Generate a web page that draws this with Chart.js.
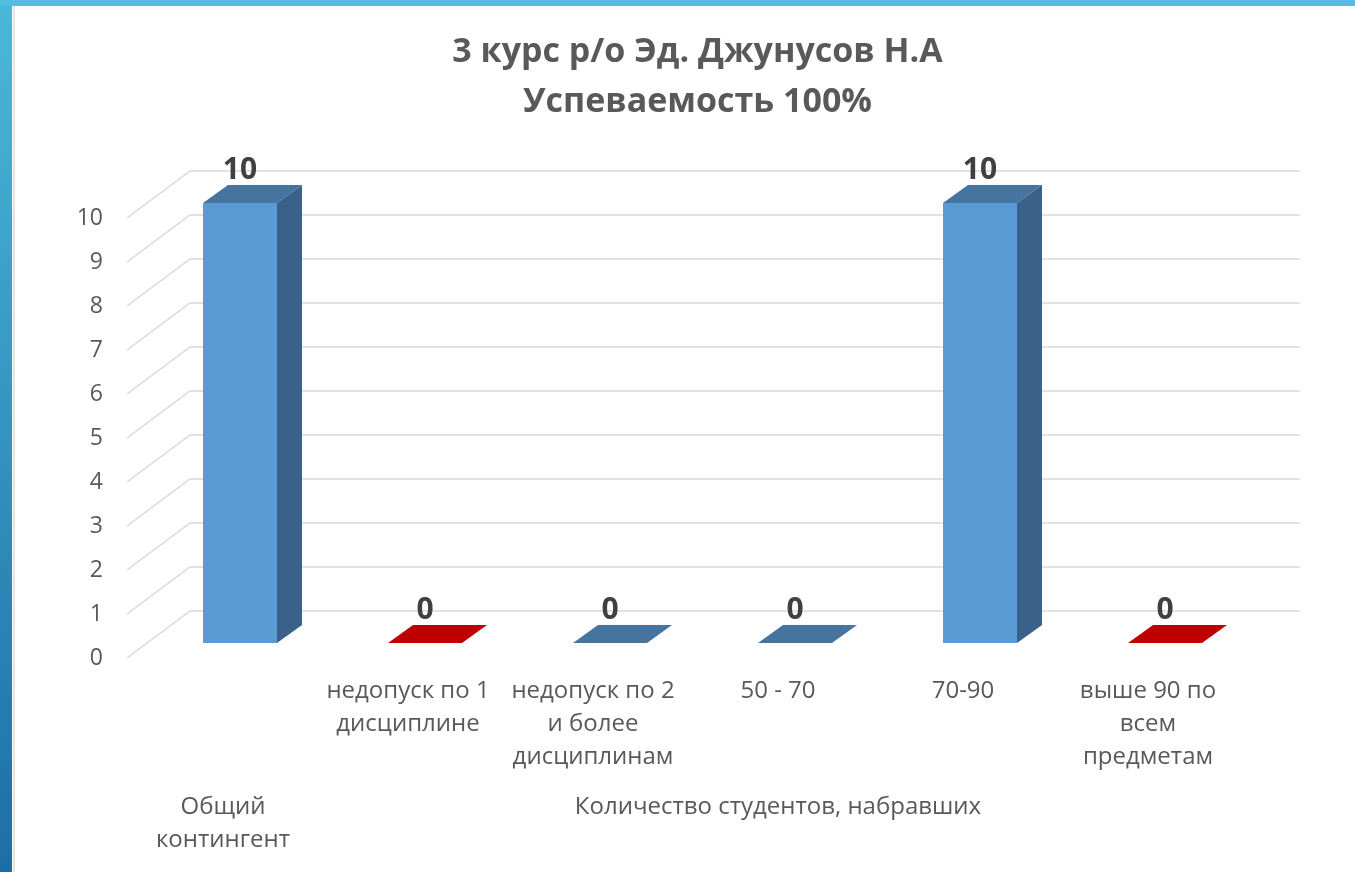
<!DOCTYPE html>
<html>
<head>
<meta charset="utf-8">
<script src="https://cdn.jsdelivr.net/npm/chart.js@4.4.0/dist/chart.umd.min.js"></script>
<style>
  html, body { margin: 0; padding: 0; }
  body {
    width: 1355px; height: 872px; overflow: hidden;
    background:
      linear-gradient(#55bedf, #55bedf) 0 0 / 100% 6px no-repeat,
      linear-gradient(to bottom, #4ab8da, #1d6ea6) 0 0 / 12px 100% no-repeat,
      linear-gradient(#e4e4e4, #e4e4e4) 13px 6px / 2px 100% no-repeat,
      #ffffff;
  }
  #wrap { position: absolute; left: 0; top: 0; width: 1355px; height: 872px; }
</style>
</head>
<body>
<div id="wrap"><canvas id="myChart"></canvas></div>
<script>
const titleLines = ['3 курс р/о Эд. Джунусов Н.А', 'Успеваемость 100%'];
const categories = [
  '',
  ['недопуск по 1', 'дисциплине'],
  ['недопуск по 2', 'и более', 'дисциплинам'],
  '50 - 70',
  '70-90',
  ['выше 90 по', 'всем', 'предметам']
];
const students = [10, 0, 0, 0, 10, 0];
const groupLabels = [['Общий', 'контингент'], ['Количество студентов, набравших']];
const groupFrom = [0, 1];
const groupTo = [0, 5];

// colours: blue bars and red bars (front / side / top)
const isRed = [false, true, false, false, false, true];
const frontColors = isRed.map(r => r ? '#C00000' : '#5B9BD5');
const sideColors = isRed.map(r => r ? '#8E0000' : '#3A6189');
const topColors = isRed.map(r => r ? '#C00000' : '#4574A1');

Chart.defaults.font.family = '"Open Sans", sans-serif';
Chart.defaults.color = '#595959';

const DX = 25, DY = -18;      // bar depth
const LABEL_SHIFT = -17;      // floor front edge vs bar front

const cube3d = {
  id: 'cube3d',
  beforeDatasetsDraw(chart) {
    const { ctx, chartArea, scales } = chart;
    const y = scales.y;
    ctx.save();
    ctx.strokeStyle = '#d9d9d9';
    ctx.lineWidth = 1.5;
    for (let v = 0; v <= 10; v++) {
      const p = y.getPixelForValue(v);
      ctx.beginPath();
      ctx.moveTo(chartArea.left - 20.5, p + 15);
      ctx.lineTo(chartArea.left + 42.5, p - 32);
      ctx.lineTo(chartArea.right + 42.5, p - 32);
      ctx.stroke();
    }
    ctx.restore();
  },
  afterDatasetsDraw(chart) {
    const { ctx } = chart;
    const meta = chart.getDatasetMeta(0);
    ctx.save();
    meta.data.forEach((bar, i) => {
      const w = bar.width / 2;
      const l = bar.x - w, r = bar.x + w;
      const top = bar.y, base = bar.base;
      // side face
      ctx.fillStyle = sideColors[i];
      ctx.beginPath();
      ctx.moveTo(r, top);
      ctx.lineTo(r + DX, top + DY);
      ctx.lineTo(r + DX, base + DY);
      ctx.lineTo(r, base);
      ctx.closePath();
      ctx.fill();
      // top face
      ctx.fillStyle = topColors[i];
      ctx.beginPath();
      ctx.moveTo(l, top);
      ctx.lineTo(l + DX, top + DY);
      ctx.lineTo(r + DX, top + DY);
      ctx.lineTo(r, top);
      ctx.closePath();
      ctx.fill();
      // value label
      ctx.fillStyle = '#404040';
      ctx.font = 'bold 30px "Open Sans", sans-serif';
      ctx.textAlign = 'center';
      ctx.textBaseline = 'middle';
      ctx.fillText(String(students[i]), bar.x, top - 33);
    });
    ctx.restore();
  },
  afterDraw(chart) {
    const { ctx, chartArea, scales } = chart;
    const x = scales.x;
    ctx.save();
    ctx.fillStyle = '#595959';
    ctx.font = '24px "Open Sans", sans-serif';
    ctx.textAlign = 'center';
    ctx.textBaseline = 'middle';
    groupLabels.forEach((lines, g) => {
      const cx = (x.getPixelForValue(groupFrom[g]) + x.getPixelForValue(groupTo[g])) / 2 + LABEL_SHIFT;
      lines.forEach((t, j) => {
        ctx.fillText(t, cx, chartArea.bottom + 164 + j * 33);
      });
    });
    ctx.restore();
  }
};

new Chart(document.getElementById('myChart'), {
  type: 'bar',
  data: {
    labels: categories,
    datasets: [{
      data: students,
      backgroundColor: frontColors,
      borderWidth: 0,
      barPercentage: 0.4,
      categoryPercentage: 1
    }]
  },
  options: {
    responsive: true,
    maintainAspectRatio: false,
    animation: false,
    layout: { padding: { left: 40, right: 0, top: 0, bottom: 0 } },
    plugins: {
      legend: { display: false },
      tooltip: { enabled: false },
      title: {
        display: true,
        text: titleLines,
        color: '#595959',
        font: { size: 34, weight: 'bold', lineHeight: '50px' },
        padding: { top: 27, bottom: 76 }
      }
    },
    scales: {
      x: {
        grid: { display: false, drawTicks: false },
        border: { display: false },
        ticks: {
          font: { size: 24, lineHeight: '33px' },
          color: '#595959',
          padding: 32,
          labelOffset: LABEL_SHIFT,
          maxRotation: 0,
          autoSkip: false
        },
        afterFit(s) { s.height = 229; }
      },
      y: {
        min: 0,
        max: 10,
        grid: { display: false, drawTicks: false },
        border: { display: false },
        ticks: {
          stepSize: 1,
          font: { size: 23 },
          color: '#595959',
          padding: 44.5,
          labelOffset: 15
        },
        afterFit(s) { s.width = 107.5; }
      },
      yR: {
        position: 'right',
        display: true,
        grid: { display: false, drawTicks: false },
        border: { display: false },
        ticks: { display: false },
        afterFit(s) { s.width = 97.5; }
      }
    }
  },
  plugins: [cube3d]
});
</script>
</body>
</html>
